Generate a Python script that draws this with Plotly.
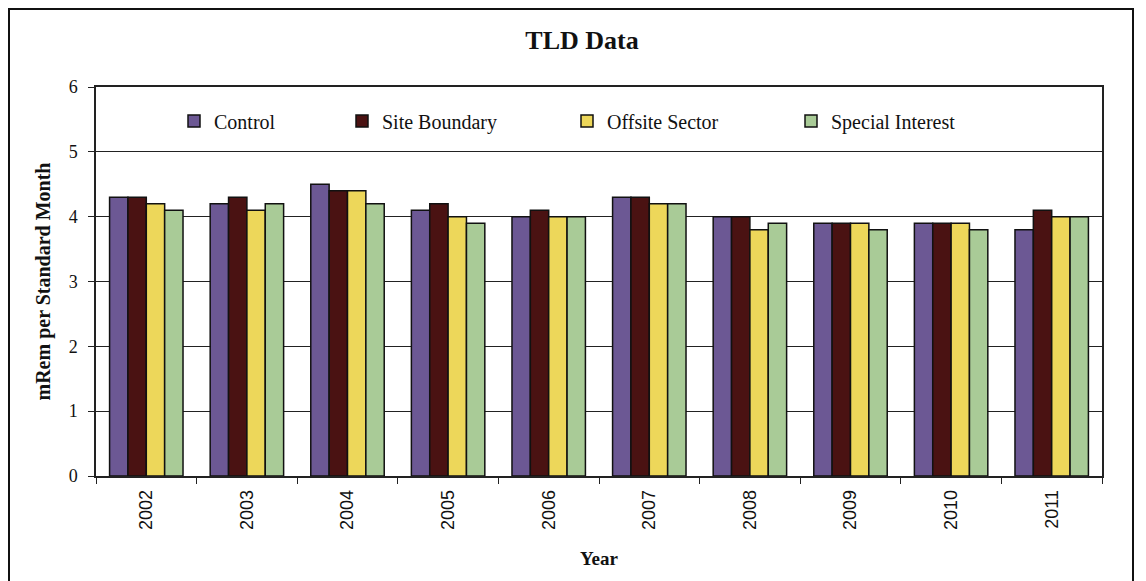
import plotly.graph_objects as go

years = ["2002", "2003", "2004", "2005", "2006", "2007", "2008", "2009", "2010", "2011"]
control = [4.3, 4.2, 4.5, 4.1, 4.0, 4.3, 4.0, 3.9, 3.9, 3.8]
site_boundary = [4.3, 4.3, 4.4, 4.2, 4.1, 4.3, 4.0, 3.9, 3.9, 4.1]
offsite_sector = [4.2, 4.1, 4.4, 4.0, 4.0, 4.2, 3.8, 3.9, 3.9, 4.0]
special_interest = [4.1, 4.2, 4.2, 3.9, 4.0, 4.2, 3.9, 3.8, 3.8, 4.0]

series_names = ["Control", "Site Boundary", "Offsite Sector", "Special Interest"]
series_values = [control, site_boundary, offsite_sector, special_interest]
series_colors = ["#6C5894", "#4A1212", "#EDD75A", "#A9CB97"]

# page-pixel layout (the page body has an 8px margin)
OFF = 8
W, H = 1146, 581
L, R, T, B = 96, 1102, 87, 476
pw, ph = R - L, B - T

def px_x(x):
    return (x - L) / pw

def px_y(y):
    return (B - y) / ph

legend_left_px = [174, 342, 567, 791]
legend_names = ["legend", "legend2", "legend3", "legend4"]

fig = go.Figure()
for name, vals, col, lg in zip(series_names, series_values, series_colors, legend_names):
    fig.add_trace(go.Bar(
        x=years, y=vals, name=name, legend=lg, showlegend=True,
        marker=dict(color=col, line=dict(color="#111111", width=1.5)),
    ))

legend_font = dict(family="Liberation Serif", size=20, color="#111111")
legend_layouts = {}
for lg, lx in zip(legend_names, legend_left_px):
    legend_layouts[lg] = dict(
        orientation="h", x=px_x(lx), xanchor="left", y=px_y(121), yanchor="middle",
        bgcolor="rgba(0,0,0,0)", font=legend_font, itemclick=False, borderwidth=0,
        visible=True,
    )

fig.update_layout(
    width=W - OFF, height=H - OFF,
    margin=dict(l=L - OFF, r=W - R, t=T - OFF, b=H - B),
    paper_bgcolor="white", plot_bgcolor="white",
    showlegend=True,
    barmode="group", bargap=0.27, bargroupgap=0.0,
    title=dict(text="<b>TLD Data</b>", x=(582 - OFF) / (W - OFF), xanchor="center",
               y=1 - (40 - OFF) / (H - OFF), yanchor="middle",
               font=dict(family="Liberation Serif", size=26, color="#111111")),
    font=dict(family="Liberation Sans", color="#111111"),
    xaxis=dict(
        type="category", tickson="boundaries", ticks="outside", ticklen=6,
        tickcolor="#222222", tickangle=-90, ticklabelstandoff=5,
        tickfont=dict(family="Liberation Sans", size=18, color="#111111"),
        showline=True, linecolor="#222222", linewidth=1.5, mirror=True,
        title=dict(text="<b>Year</b>", standoff=23,
                   font=dict(family="Liberation Serif", size=19, color="#111111")),
    ),
    yaxis=dict(
        range=[0, 6], dtick=1, ticks="outside", ticklen=6, tickcolor="#222222",
        ticklabelstandoff=7,
        tickfont=dict(family="Liberation Serif", size=18, color="#111111"),
        showgrid=True, gridcolor="#222222", gridwidth=1,
        showline=True, linecolor="#222222", linewidth=1.5, mirror=True,
        zeroline=False,
        title=dict(text="<b>mRem per Standard Month</b>", standoff=13,
                   font=dict(family="Liberation Serif", size=20, color="#111111")),
    ),
    shapes=[dict(type="rect", xref="paper", yref="paper",
                 x0=px_x(9), x1=px_x(1133), y0=px_y(600), y1=px_y(9),
                 line=dict(color="#111111", width=2), fillcolor="rgba(0,0,0,0)",
                 layer="below")],
    **legend_layouts,
)

fig.write_html("out.html")
